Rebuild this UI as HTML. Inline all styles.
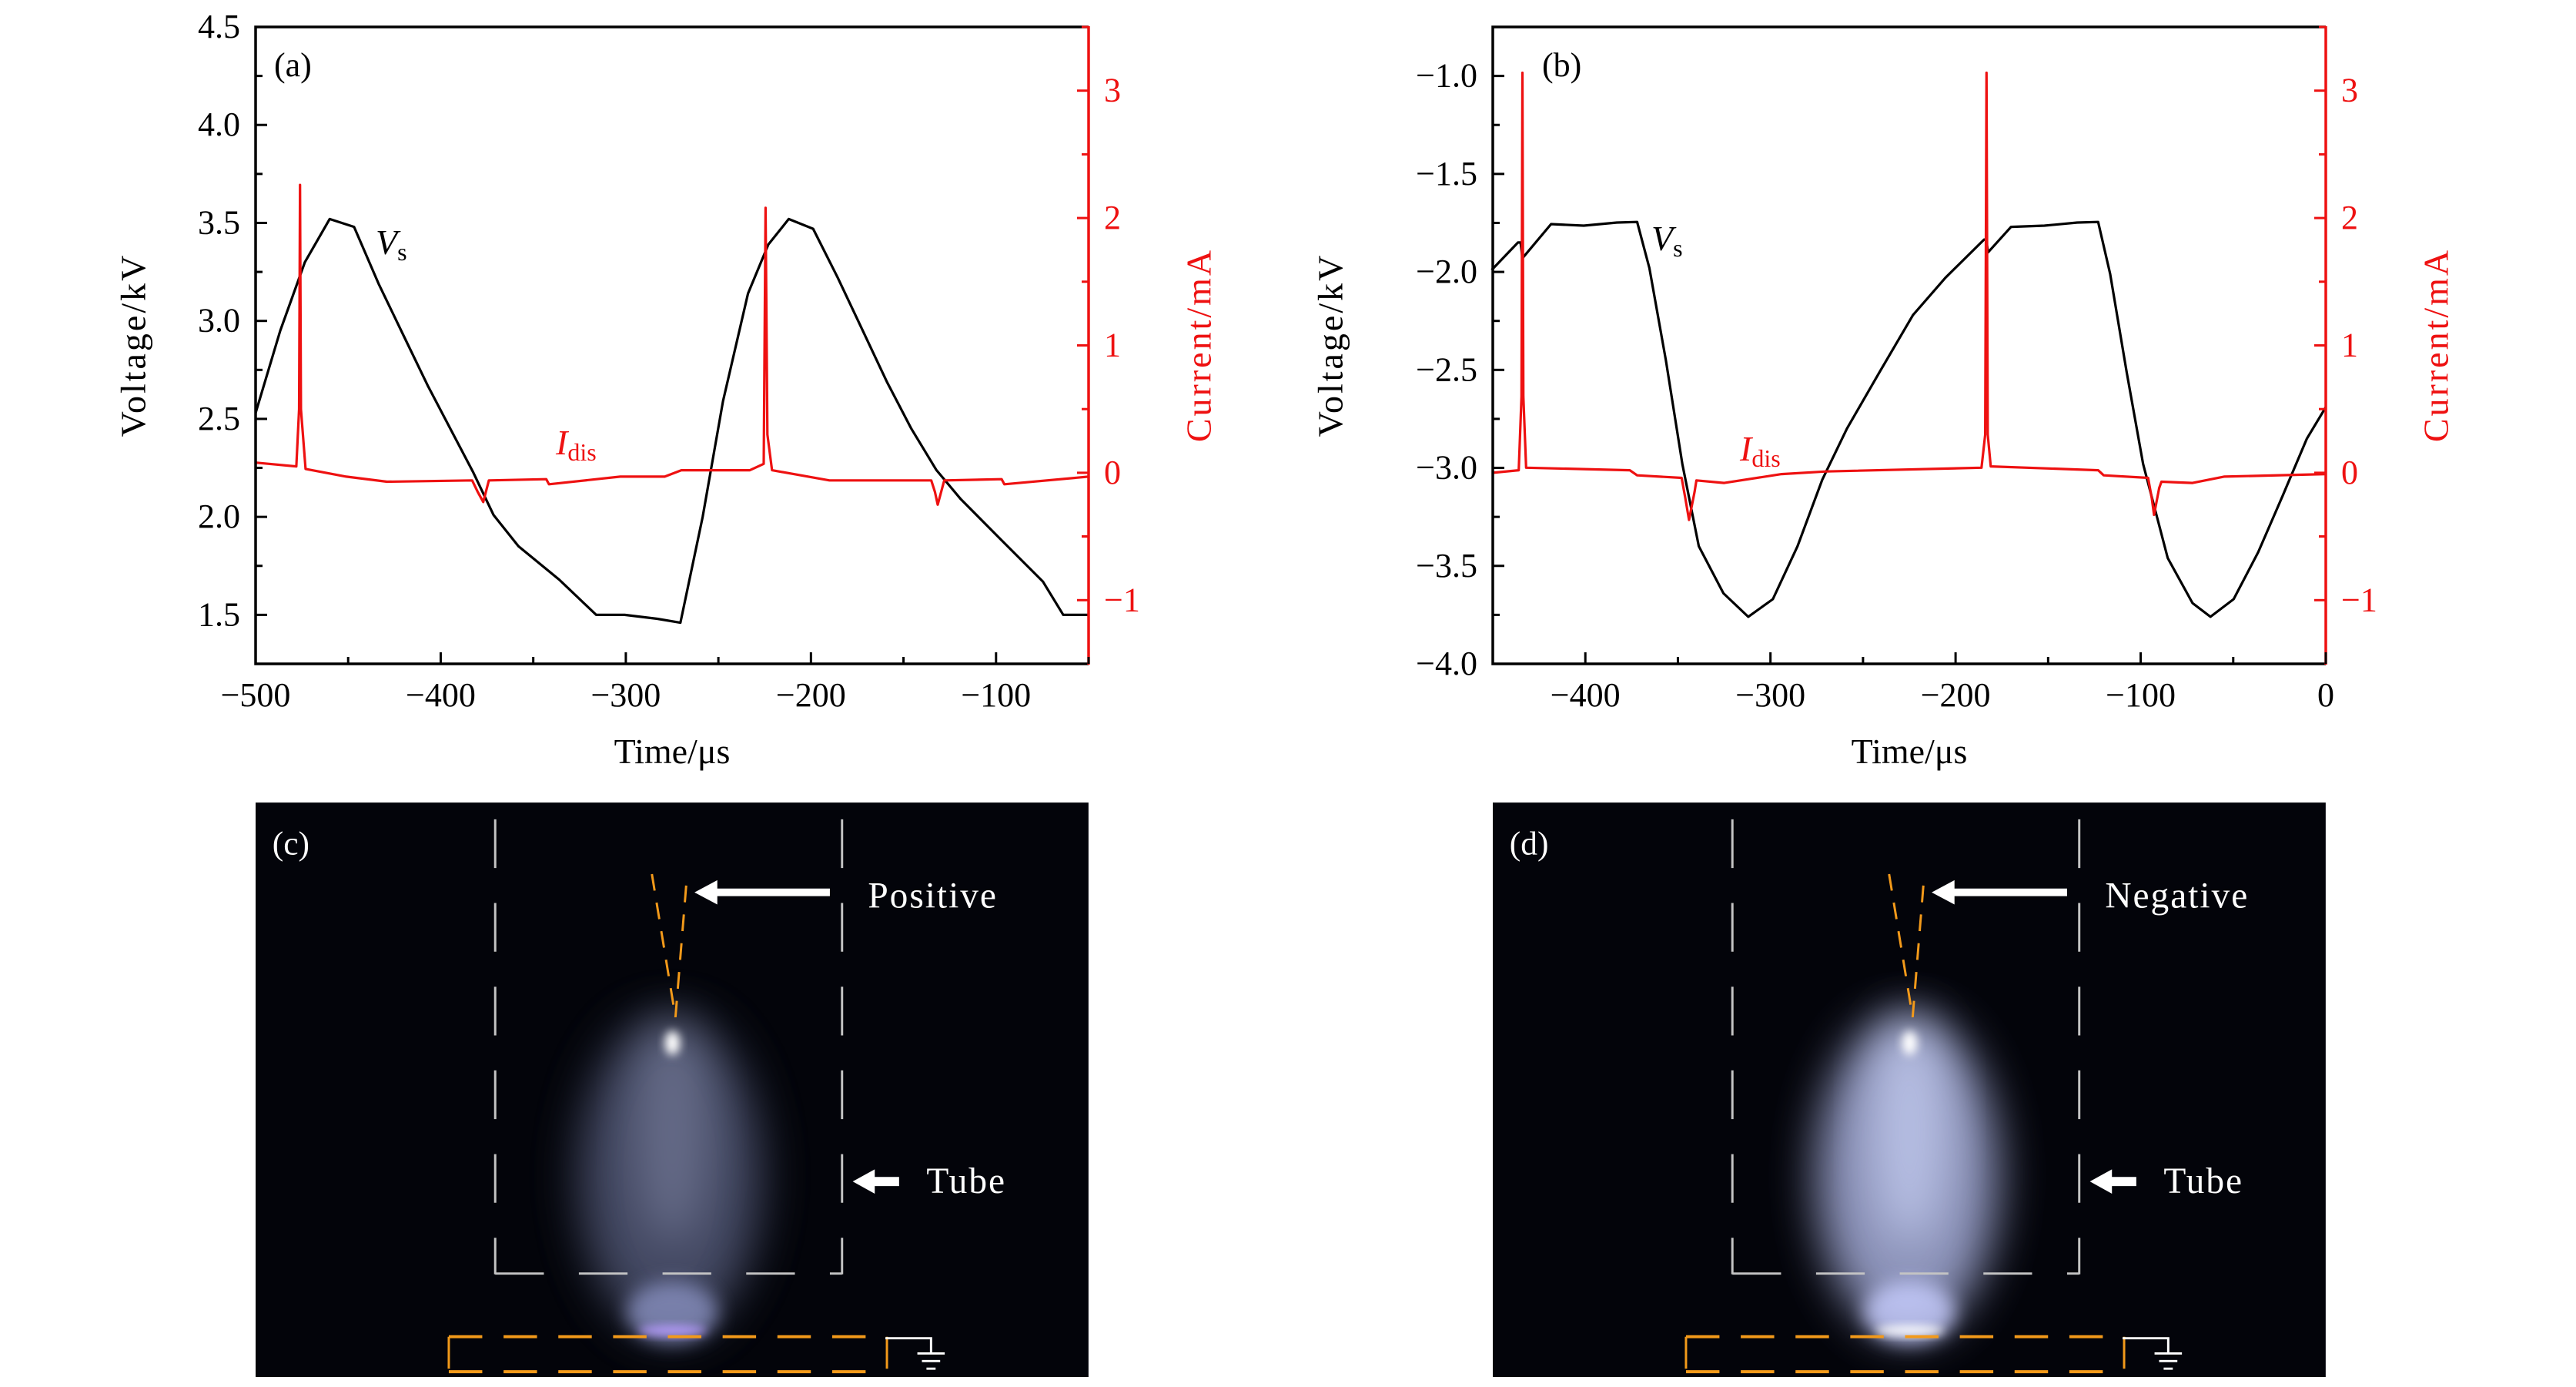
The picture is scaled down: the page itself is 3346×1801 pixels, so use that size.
<!DOCTYPE html>
<html><head><meta charset="utf-8">
<style>
html,body{margin:0;padding:0;background:#fff;}
svg{display:block;}
text{font-family:"Liberation Serif",serif;}
</style></head>
<body>
<svg id="fig" width="3346" height="1801" viewBox="0 0 3346 1801" xmlns="http://www.w3.org/2000/svg">
<defs>
<filter id="blur30" x="-50%" y="-50%" width="200%" height="200%"><feGaussianBlur stdDeviation="30"/></filter>
<filter id="blur12" x="-50%" y="-50%" width="200%" height="200%"><feGaussianBlur stdDeviation="12"/></filter>
<filter id="blur6" x="-50%" y="-50%" width="200%" height="200%"><feGaussianBlur stdDeviation="6"/></filter>
</defs>
<g id="charts"></g>
<g id="photos"></g>
</svg>
<script>
// ---- Panel (a) data ----
const tA_V = [-500,-486.7,-473.4,-460,-446.8,-433.6,-420.3,-407,-393.7,-382.6,-371.5,-358,-336,-316,-300.6,-283,-270.5,-258.5,-247.5,-234,-223,-212,-198.8,-185.5,-172,-159,-145.8,-132.3,-119,-96.9,-74.7,-63.7,-50.4];
const vA = [2.53,2.95,3.30,3.52,3.48,3.19,2.93,2.67,2.43,2.23,2.01,1.85,1.68,1.50,1.50,1.48,1.46,2.00,2.59,3.14,3.39,3.52,3.47,3.22,2.95,2.69,2.45,2.24,2.09,1.88,1.67,1.50,1.50];
const tA_I = [-500,-478,-476.5,-476,-475.5,-473,-451,-429,-383,-380,-377,-374,-343,-341.5,-303,-279,-270,-233,-225.5,-224.5,-223.5,-221,-190,-135,-133,-131.5,-128,-97,-95.5,-50];
const iA = [0.08,0.05,0.5,2.26,0.5,0.03,-0.03,-0.07,-0.06,-0.15,-0.23,-0.06,-0.05,-0.09,-0.03,-0.03,0.02,0.02,0.07,2.08,0.3,0.02,-0.06,-0.06,-0.15,-0.25,-0.06,-0.05,-0.09,-0.03];
// ---- Panel (b) data ----
const tB_V = [-450.6,-436.4,-435,-434,-418.5,-400.9,-383,-372,-365.4,-356.5,-347.6,-338.7,-325.4,-312,-298.7,-285.4,-272,-258.7,-241,-223,-205.5,-184.6,-183.5,-182.4,-170,-152,-134.3,-123,-116.5,-107.6,-98.7,-85.4,-72,-62.3,-49.8,-36.5,-23.2,-10.2,0];
const vB = [-1.99,-1.85,-1.85,-1.93,-1.756,-1.764,-1.748,-1.745,-1.98,-2.45,-2.98,-3.40,-3.64,-3.76,-3.67,-3.40,-3.06,-2.80,-2.51,-2.22,-2.03,-1.835,-1.835,-1.90,-1.77,-1.764,-1.748,-1.745,-2.01,-2.51,-2.98,-3.46,-3.69,-3.76,-3.67,-3.43,-3.14,-2.85,-2.69];
const tB_I = [-450,-436,-434.5,-434,-433.5,-432,-376,-372,-348,-346,-344,-341,-340,-325,-294,-270,-186,-184,-183.3,-182.6,-181,-123,-120,-96,-94,-92.8,-90,-88.8,-72,-55,0];
const iB = [0,0.02,0.6,3.14,0.6,0.04,0.02,-0.02,-0.04,-0.2,-0.37,-0.15,-0.06,-0.08,-0.01,0.01,0.04,0.3,3.14,0.3,0.05,0.02,-0.02,-0.04,-0.2,-0.33,-0.12,-0.07,-0.08,-0.03,-0.01];
// ---- Axis tick data ----
const xTicksA = [-500,-400,-300,-200,-100];
const xTicksB = [-400,-300,-200,-100,0];
const vTicksA = [1.5,2.0,2.5,3.0,3.5,4.0,4.5];
const vTicksB = [-4.0,-3.5,-3.0,-2.5,-2.0,-1.5,-1.0];
const iTicks = [-1,0,1,2,3];

const NS = "http://www.w3.org/2000/svg";
function mk(tag, attrs, parent){
  const e = document.createElementNS(NS, tag);
  for (const k in attrs) e.setAttribute(k, attrs[k]);
  parent.appendChild(e);
  return e;
}
function fmt(v, dec){
  const s = Math.abs(v).toFixed(dec);
  return (v < 0 ? "\u2212" : "") + s;
}
const charts = document.getElementById('charts');

function panel(cfg){
  const g = mk('g', {}, charts);
  
  
  const L = cfg.left, R = cfg.right, T = 35, B = 862;
  const sx = t => L + (t - cfg.xmin) / (cfg.xmax - cfg.xmin) * (R - L);
  const sv = v => B - (v - cfg.vmin) / (cfg.vmax - cfg.vmin) * (B - T);
  const si = v => B - (v - (-1.5)) / (3.5 - (-1.5)) * (B - T);

  const pv = mk('polyline', {points: cfg.tV.map((t,k)=>sx(t).toFixed(1)+','+sv(cfg.v[k]).toFixed(1)).join(' '), fill:'none', stroke:'#000', 'stroke-width':3.2, 'stroke-linejoin':'round'}, g);
  
  
  const pi = mk('polyline', {points: cfg.tI.map((t,k)=>sx(t).toFixed(1)+','+si(cfg.i[k]).toFixed(1)).join(' '), fill:'none', stroke:'#ee1111', 'stroke-width':3.2, 'stroke-linejoin':'round'}, g);
  
  

  const fr = mk('path', {d:`M${R},${T} L${L},${T} L${L},${B} L${R},${B}`, fill:'none', stroke:'#000', 'stroke-width':3.5}, g);
  
  
  const ra = mk('line', {x1:R, y1:T-1, x2:R, y2:B+1, stroke:'#ee1111', 'stroke-width':3.5}, g);
  
  

  for (let t = cfg.xmin; t <= cfg.xmax + 0.01; t += 50){
    const major = Math.abs(t % 100) < 0.01;
    mk('line', {x1:sx(t), y1:B, x2:sx(t), y2:B - (major?15:9), stroke:'#000', 'stroke-width':3}, g);
  }
  cfg.xTicks.forEach(t => {
    const tx = mk('text', {x:sx(t), y:917, 'font-size':44, 'text-anchor':'middle', fill:'#000'}, g);
    tx.textContent = t === 0 ? '0' : fmt(t, 0);
    
    
  });
  for (let k = 0; k < cfg.vTicks.length; k++){
    const v = cfg.vTicks[k];
    mk('line', {x1:L, y1:sv(v), x2:L+15, y2:sv(v), stroke:'#000', 'stroke-width':3}, g);
    const m = v + 0.25;
    if (m < cfg.vmax) mk('line', {x1:L, y1:sv(m), x2:L+9, y2:sv(m), stroke:'#000', 'stroke-width':3}, g);
    const tx = mk('text', {x:L-20, y:sv(v)+14, 'font-size':44, 'text-anchor':'end', fill:'#000'}, g);
    tx.textContent = fmt(v, 1);
    
    
  }
  iTicks.forEach(v => {
    mk('line', {x1:R, y1:si(v), x2:R-15, y2:si(v), stroke:'#ee1111', 'stroke-width':3}, g);
    mk('line', {x1:R, y1:si(v+0.5), x2:R-9, y2:si(v+0.5), stroke:'#ee1111', 'stroke-width':3}, g);
    const tx = mk('text', {x:R+20, y:si(v)+14, 'font-size':44, 'text-anchor':'start', fill:'#ee1111'}, g);
    tx.textContent = fmt(v, 0);
    
    
  });
  mk('line', {x1:R, y1:si(-0.5), x2:R-9, y2:si(-0.5), stroke:'#ee1111', 'stroke-width':3}, g);

  const yt = mk('text', {x:0, y:0, 'font-size':46, 'text-anchor':'middle', 'letter-spacing':3, transform:`translate(${cfg.vTitleX},448) rotate(-90)`, fill:'#000', 'dominant-baseline':'middle'}, g);
  yt.textContent = 'Voltage/kV';
  
  
  const it = mk('text', {x:0, y:0, 'font-size':46, 'text-anchor':'middle', 'letter-spacing':3, transform:`translate(${R+148},448) rotate(-90)`, fill:'#ee1111', 'dominant-baseline':'middle'}, g);
  it.textContent = 'Current/mA';
  
  
  const xt = mk('text', {x:(L+R)/2, y:991, 'font-size':46, 'text-anchor':'middle', fill:'#000'}, g);
  xt.textContent = 'Time/\u03bcs';
  
  

  const pl = mk('text', {x:cfg.labelX, y:99, 'font-size':44, fill:'#000'}, g);
  pl.textContent = '(' + cfg.id + ')';
  
  

  const vs = mk('text', {x:cfg.vsX, y:cfg.vsY, 'font-size':46, fill:'#000'}, g);
  vs.innerHTML = '<tspan font-style="italic">V</tspan><tspan font-size="32" dy="8">s</tspan>';
  
  
  const id = mk('text', {x:cfg.idX, y:cfg.idY, 'font-size':46, fill:'#ee1111'}, g);
  id.innerHTML = '<tspan font-style="italic">I</tspan><tspan font-size="32" dy="8">dis</tspan>';
  
  
}

panel({id:'a', left:332, right:1414, xmin:-500, xmax:-50, vmin:1.25, vmax:4.5, tV:tA_V, v:vA, tI:tA_I, i:iA, xTicks:xTicksA, vTicks:vTicksA, vTitleX:178, vsX:488, vsY:330, idX:722, idY:590, labelX:356});
panel({id:'b', left:1939, right:3021, xmin:-450, xmax:0, vmin:-4.0, vmax:-0.75, tV:tB_V, v:vB, tI:tB_I, i:iB, xTicks:xTicksB, vTicks:vTicksB, vTitleX:1733, vsX:2145, vsY:325, idX:2260, idY:598, labelX:2003});

// ---- Photos ----
const photos = document.getElementById('photos');
function photo(ox, label, word, bright){
  const g = mk('g', {transform:`translate(${ox},1052) scale(0.988)`}, photos);
  
  
  mk('rect', {x:0, y:-10, width:1095, height:755, fill:'#03040a'}, g);
  mk('ellipse', {cx:545, cy:480, rx:120, ry:210, fill: bright?'#a4acd8':'#5e6688', opacity: bright?0.85:0.7, filter:'url(#blur30)'}, g);
  mk('ellipse', {cx:548, cy:420, rx:50, ry:150, fill:'#c8d0f4', opacity: bright?0.7:0.25, filter:'url(#blur30)'}, g);
  mk('ellipse', {cx:548, cy:660, rx:60, ry:40, fill: bright?'#c8ceff':'#8890c0', opacity:0.8, filter:'url(#blur12)'}, g);
  mk('ellipse', {cx:548, cy:684, rx:45, ry:7, fill: bright?'#fff':'#b89cff', opacity:0.9, filter:'url(#blur6)'}, g);
  mk('ellipse', {cx:548, cy:306, rx:10, ry:16, fill:'#fff', filter:'url(#blur6)'}, g);
  const tube = mk('path', {d:'M315,12 L315,610 M771,12 L771,610 M315,609 L771,609', fill:'none', stroke:'#c4c4c4', 'stroke-width':3, 'stroke-dasharray':'64 46'}, g);
  
  
  const el = mk('path', {d:'M521,84 L552,272 L567,88', fill:'none', stroke:'#f39a1a', 'stroke-width':3, 'stroke-dasharray':'22 16'}, g);
  
  
  const ge = mk('path', {d:'M254,692 L830,692 M254,738 L830,738', fill:'none', stroke:'#f39a1a', 'stroke-width':4, 'stroke-dasharray':'44 28'}, g);
  
  
  mk('path', {d:'M254,692 L254,734 M830,692 L830,734', stroke:'#f39a1a', 'stroke-width':3, fill:'none'}, g);
  const gnd = mk('path', {d:'M828,694 L888,694 L888,714 M870,714 L906,714 M876,724 L900,724 M882,734 L894,734', stroke:'#fff', 'stroke-width':3, fill:'none'}, g);
  
  
  const a1 = mk('path', {d:'M755,103 L607,103 L607,92 L577,108 L607,124 L607,113 L755,113 Z', fill:'#fff'}, g);
  
  
  const a2 = mk('path', {d:'M846,482 L814,482 L814,472 L785,488 L814,504 L814,494 L846,494 Z', fill:'#fff'}, g);
  
  
  const t1 = mk('text', {x:805, y:128, 'font-size':48, fill:'#fff', 'letter-spacing':2}, g);
  t1.textContent = word;
  
  
  const t2 = mk('text', {x:882, y:503, 'font-size':48, fill:'#fff', 'letter-spacing':2}, g);
  t2.textContent = 'Tube';
  
  
  const pl = mk('text', {x:22, y:58, 'font-size':44, fill:'#fff'}, g);
  pl.textContent = '(' + label + ')';
  
  
}
photo(332, 'c', 'Positive', false);
photo(1939, 'd', 'Negative', true);
</script>
</body></html>
